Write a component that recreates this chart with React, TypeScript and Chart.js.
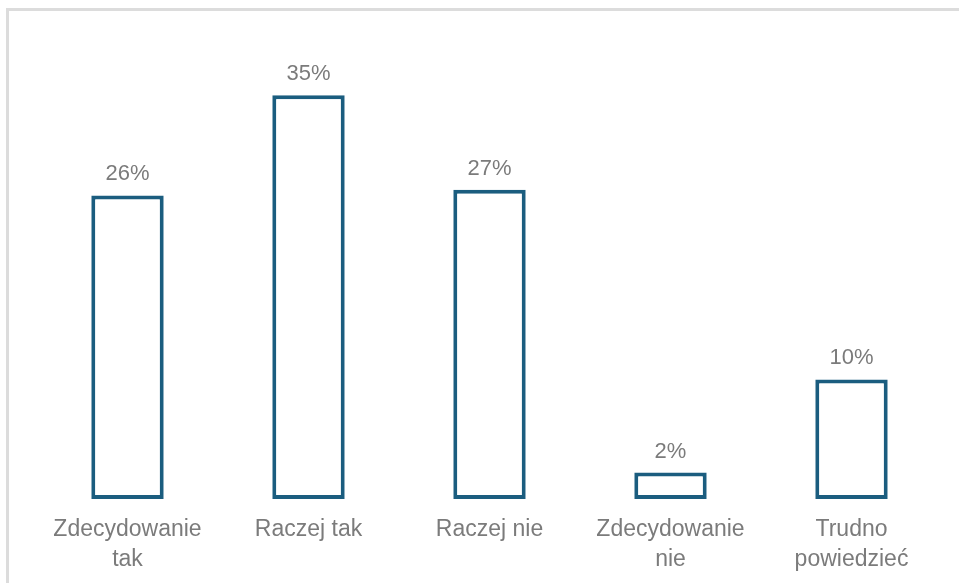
import React, { useEffect, useRef } from "react";
import { Chart, registerables } from "chart.js";

Chart.register(...registerables);

const categories: string[][] = [
  ["Zdecydowanie", "tak"],
  ["Raczej tak"],
  ["Raczej nie"],
  ["Zdecydowanie", "nie"],
  ["Trudno", "powiedzieć"],
];
// bar heights (labels are rounded)
const values: number[] = [26.4, 35.1, 26.9, 2.3, 10.4];
const valueLabels: string[] = ["26%", "35%", "27%", "2%", "10%"];

const FONT = "'Liberation Sans', Arial, sans-serif";
const GREY = "#7b7b7b";
const BAR = "#1b5d7f";

const labelPlugin = {
  id: "valueLabels",
  afterDatasetsDraw(chart: any) {
    const ctx = chart.ctx;
    const meta = chart.getDatasetMeta(0);
    ctx.save();
    ctx.font = `22px ${FONT}`;
    ctx.fillStyle = GREY;
    ctx.textAlign = "center";
    ctx.textBaseline = "middle";
    meta.data.forEach((el: any, i: number) => {
      ctx.fillText(valueLabels[i], el.x, el.y - 21);
    });
    ctx.restore();
  },
};

export default function App() {
  const ref = useRef<HTMLCanvasElement>(null);
  useEffect(() => {
    if (!ref.current) return;
    const chart = new Chart(ref.current, {
      type: "bar",
      data: {
        labels: categories,
        datasets: [
          {
            data: values,
            backgroundColor: "#ffffff",
            borderColor: BAR,
            borderWidth: 4,
            borderSkipped: false,
            barPercentage: 0.4,
            categoryPercentage: 1,
          },
        ],
      },
      options: {
        animation: false,
        responsive: false,
        maintainAspectRatio: false,
        layout: { padding: { left: 37, right: 17, top: 39, bottom: 9 } },
        plugins: { legend: { display: false }, tooltip: { enabled: false } },
        scales: {
          x: {
            grid: { display: false, drawTicks: false },
            border: { display: false },
            ticks: {
              color: GREY,
              font: { family: FONT, size: 23, lineHeight: 30 / 23 },
              padding: 16,
              maxRotation: 0,
              autoSkip: false,
            },
          },
          y: {
            display: false,
            min: 0,
            max: 40,
          },
        },
      },
      plugins: [labelPlugin],
    });
    return () => chart.destroy();
  }, []);

  return (
    <div style={{ position: "fixed", left: 0, top: 0, width: 959, height: 583, background: "#fff", overflow: "hidden" }}>
      <div
        style={{
          position: "absolute",
          left: 6,
          top: 8,
          width: 1000,
          height: 1000,
          borderTop: "3px solid #dcdcdc",
          borderLeft: "3px solid #dcdcdc",
        }}
      />
      <canvas ref={ref} width={959} height={600} style={{ position: "absolute", left: 0, top: 0 }} />
    </div>
  );
}
